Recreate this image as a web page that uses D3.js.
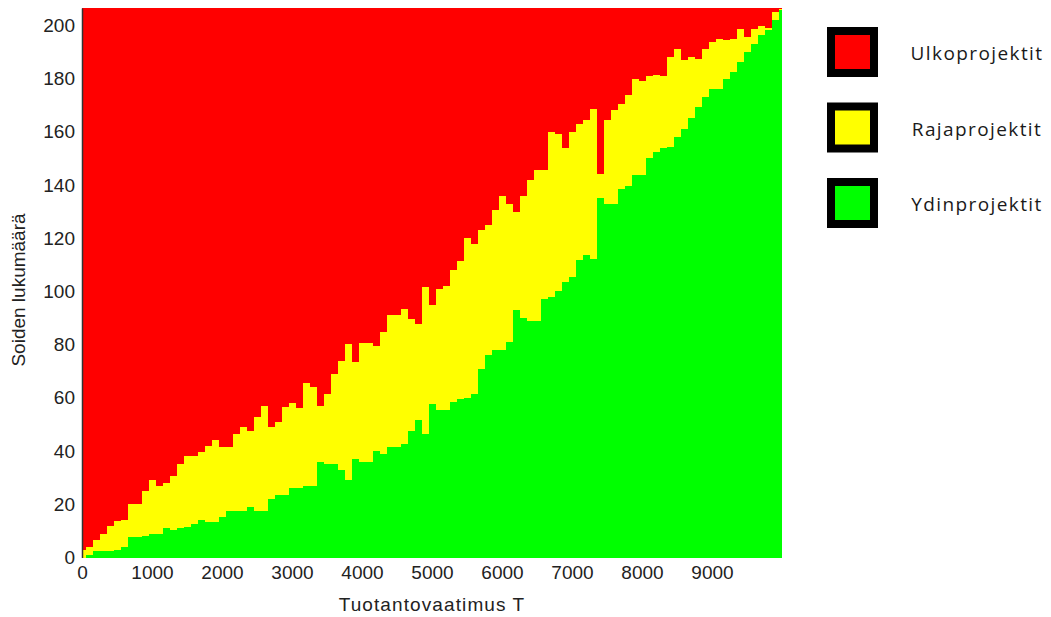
<!DOCTYPE html>
<html>
<head>
<meta charset="utf-8">
<script src="https://cdn.jsdelivr.net/npm/d3@7/dist/d3.min.js"></script>
<style>
  html, body { margin: 0; padding: 0; background: #fff; }
  svg { display: block; }
</style>
</head>
<body>
<svg id="chart" width="1051" height="617"></svg>
<script>
// Production requirement T (x values)
const demandT = [0,100,200,300,400,500,600,700,800,900,1000,1100,1200,1300,1400,1500,1600,1700,1800,1900,
  2000,2100,2200,2300,2400,2500,2600,2700,2800,2900,3000,3100,3200,3300,3400,3500,3600,3700,3800,3900,
  4000,4100,4200,4300,4400,4500,4600,4700,4800,4900,5000,5100,5200,5300,5400,5500,5600,5700,5800,5900,
  6000,6100,6200,6300,6400,6500,6600,6700,6800,6900,7000,7100,7200,7300,7400,7500,7600,7700,7800,7900,
  8000,8100,8200,8300,8400,8500,8600,8700,8800,8900,9000,9100,9200,9300,9400,9500,9600,9700,9800,9900,10000];

// Cumulative upper edge of core projects (Ydinprojektit)
const coreTop = [0,1,2.6,2.6,2.6,3,3.9,7.6,7.6,8,9,9,11,10.5,11,11.4,12.7,14,13.3,13.3,
  15.4,17.4,17.4,17.4,19,17.4,17.4,22,23.3,23.3,26,26,26.7,26.7,35.8,35.2,35,32.7,29.2,37.1,
  35.8,35.8,40.2,39,41.5,41.5,42.7,47.7,51.5,46.4,57.8,55.3,55.3,58.4,59.7,60,61.5,70.9,76,77.8,
  78,81,92.9,90,89,89,97.3,97.9,100,103.5,105.5,111.7,113.6,112,135,132.7,132.7,138.6,139.5,143.6,
  143.6,150,152.4,153.8,154.3,158,161,165,169.3,172.9,176,176,180,182.4,186.2,190,193.1,196.3,198.1,201.9,205.6];

// Cumulative upper edge of core + border projects (Rajaprojektit)
const borderTop = [3,4,6.4,9,11.7,13.9,14,20,20,25,29,26.7,28,30.8,35.3,38.3,38.3,39.5,42,44,
  41.5,41.5,46.5,49,47.7,52.7,57,49,51,56.5,57.9,56,65.7,64,56.8,61.5,69,74,80.3,73.6,
  80.5,80.5,79.3,84.7,91,91,93.5,89.5,87.6,101.6,95,100.9,102,108,111.5,120,118,123,125,130.5,
  136,133,130,135.7,141.7,145.5,145.5,160,159,154,160,163,164.3,168.7,144,164.4,168,170.6,173.7,180,
  179,181,181.5,181,188,191,187,188,187.5,191,193.8,195,194.5,195,198.7,195.5,198.7,199.9,199,205,206];

// Total number of swamps (top of the outer projects)
const totalCount = 206.5;

const yTicks = [0,20,40,60,80,100,120,140,160,180,200];
const xTicks = [0,1000,2000,3000,4000,5000,6000,7000,8000,9000];

const legendLabels = ["Ulkoprojektit", "Rajaprojektit", "Ydinprojektit"];
const legendColors = ["#ff0000", "#ffff00", "#00ff00"];

const svg = d3.select("#chart");
const x = d3.scaleLinear().domain([0, 10000]).range([82, 782]);
const y = d3.scaleLinear().domain([0, totalCount]).range([557.5, 8]);

const rows = demandT.map((t, i) => ({ t, core: coreTop[i], border: borderTop[i] }));

const g = svg.append("g").attr("shape-rendering", "crispEdges");

g.append("path").datum(rows)
  .attr("fill", "#ff0000")
  .attr("d", d3.area().curve(d3.curveStep).x(d => x(d.t)).y0(d => y(d.border)).y1(() => y(totalCount)));
g.append("path").datum(rows)
  .attr("fill", "#ffff00")
  .attr("d", d3.area().curve(d3.curveStep).x(d => x(d.t)).y0(d => y(d.core)).y1(d => y(d.border)));
g.append("path").datum(rows)
  .attr("fill", "#00ff00")
  .attr("d", d3.area().curve(d3.curveStep).x(d => x(d.t)).y0(() => y(0)).y1(d => y(d.core)));

// Axes
const yAxis = svg.append("g").attr("transform", "translate(82,0)")
  .call(d3.axisLeft(y).tickValues(yTicks).tickSize(0).tickSizeOuter(0).tickPadding(7));
yAxis.select(".domain").attr("stroke", "#333").attr("stroke-width", 1.5);
yAxis.selectAll("text").attr("font-family", "Liberation Sans, Arial, sans-serif")
  .attr("font-size", 19).attr("fill", "#222");

const xAxis = svg.append("g").attr("transform", "translate(0,558)")
  .call(d3.axisBottom(x).tickValues(xTicks).tickFormat(d3.format("d")).tickSize(0).tickPadding(8));
xAxis.select(".domain").remove();
xAxis.selectAll("text").attr("font-family", "Liberation Sans, Arial, sans-serif")
  .attr("font-size", 19).attr("fill", "#222");

svg.append("text")
  .attr("x", 432).attr("y", 611)
  .attr("text-anchor", "middle")
  .attr("font-family", "Liberation Sans, Arial, sans-serif")
  .attr("font-size", 19).attr("letter-spacing", 1.1).attr("fill", "#222")
  .text("Tuotantovaatimus T");

svg.append("text")
  .attr("transform", "translate(25,290) rotate(-90)")
  .attr("text-anchor", "middle")
  .attr("font-family", "Liberation Sans, Arial, sans-serif")
  .attr("font-size", 19).attr("fill", "#222")
  .text("Soiden lukumäärä");

// Legend
const leg = svg.append("g");
legendLabels.forEach((lab, i) => {
  const top = 27 + i * 75.5;
  leg.append("rect")
    .attr("x", 831).attr("y", top + 4).attr("width", 43).attr("height", 42)
    .attr("fill", legendColors[i]).attr("stroke", "#000").attr("stroke-width", 8);
  leg.append("text")
    .attr("x", 977).attr("y", top + 33)
    .attr("text-anchor", "middle")
    .attr("font-family", "Open Sans, sans-serif")
    .attr("font-size", 19).attr("letter-spacing", 1.4).attr("fill", "#1a1a1a")
    .text(lab);
});
</script>
</body>
</html>
